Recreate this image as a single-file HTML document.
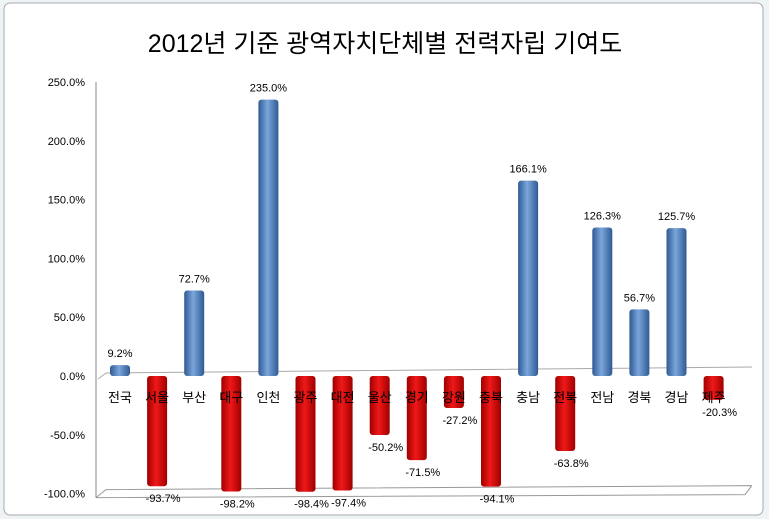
<!DOCTYPE html>
<html><head><meta charset="utf-8"><style>
body{margin:0;background:#eef4f6;}
svg{display:block;font-family:"Liberation Sans","Noto Sans CJK KR",sans-serif;}
</style></head><body>
<svg width="769" height="519">
<defs>
<linearGradient id="gb" x1="0" x2="1"><stop offset="0" stop-color="#2f5a92"/><stop offset="0.45" stop-color="#7aa6dc"/><stop offset="1" stop-color="#2f5a92"/></linearGradient>
<linearGradient id="gr" x1="0" x2="1"><stop offset="0" stop-color="#a00000"/><stop offset="0.45" stop-color="#f01818"/><stop offset="1" stop-color="#a00000"/></linearGradient>
</defs>
<rect x="4" y="3" width="759" height="512" rx="6" fill="#fff" stroke="#a8a8a8"/>
<text x="385" y="52" font-size="25" text-anchor="middle" fill="#000">2012년 기준 광역자치단체별 전력자립 기여도</text>
<g id="axis"></g>
<g id="bars"></g>
</svg>
<script>
const categories=["전국","서울","부산","대구","인천","광주","대전","울산","경기","강원","충북","충남","전북","전남","경북","경남","제주"];
const values=[9.2,-93.7,72.7,-98.2,235.0,-98.4,-97.4,-50.2,-71.5,-27.2,-94.1,166.1,-63.8,126.3,56.7,125.7,-20.3];
const ticks=[250,200,150,100,50,0,-50,-100];
const NS="http://www.w3.org/2000/svg";
const y0=376,per=1.176;
const y=v=>y0-v*per;
const x=i=>120+i*37.1;
function mk(t,a,p){const e=document.createElementNS(NS,t);for(const k in a)e.setAttribute(k,a[k]);p.appendChild(e);return e;}
const ax=document.getElementById('axis'),bg=document.getElementById('bars');
const axl=mk('line',{x1:96,y1:82,x2:96,y2:y(-100)+4,stroke:'#888'},ax);


ticks.forEach(t=>{const e=mk('text',{x:85,y:y(t)+4,'font-size':11,'text-anchor':'end',fill:'#000'},ax);e.textContent=t.toFixed(1)+'%';

});
const fl=mk('path',{d:`M96 ${y(-100)+4} L106 ${y(-100)-4} L752 ${y(-100)-8} M96 ${y(-100)+4} L745 ${y(-100)+1} L752 ${y(-100)-8}`,fill:'none',stroke:'#999'},ax);


const zl=mk('path',{d:`M98 ${y0+3} L106 ${y0-3} L752 ${y0-9}`,fill:'none',stroke:'#aaa'},ax);


values.forEach((v,i)=>{
 const cx=x(i),w=20,top=Math.min(y(v),y0),h=Math.abs(y(v)-y0);
 const r=mk('rect',{x:cx-w/2,y:top,width:w,height:h,rx:3,fill:v>=0?'url(#gb)':'url(#gr)'},bg);
 
 
 const c=mk('text',{x:cx,y:402,'font-size':13,'text-anchor':'middle',fill:'#000'},bg);c.textContent=categories[i];
 
 
 const ly=v>=0?y(v)-8:y(v)+16;
 const l=mk('text',{x:cx+(v<0?6:0),y:ly,'font-size':11,'text-anchor':'middle',fill:'#000'},bg);l.textContent=v.toFixed(1)+'%';
 
 
});
</script>
</body></html>
